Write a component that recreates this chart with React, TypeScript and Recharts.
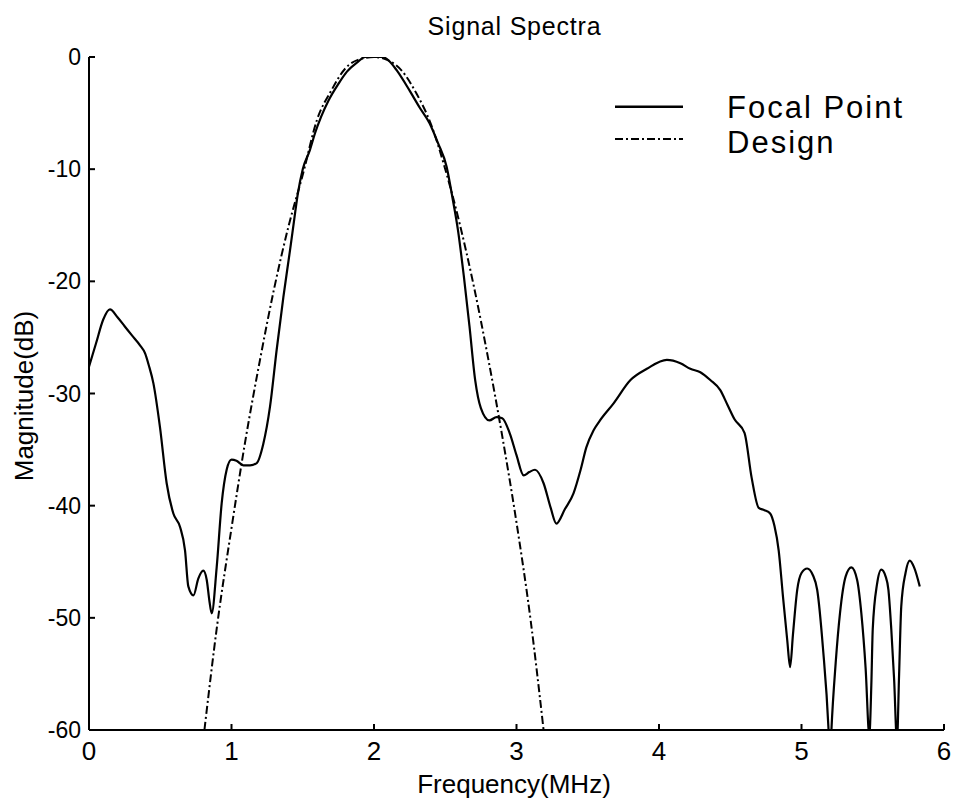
import React from 'react';
import { LineChart, Line, XAxis, YAxis } from 'recharts';

const FONT = '"Liberation Sans", Arial, Helvetica, sans-serif';

const chartTitle = 'Signal Spectra';
const xLabel = 'Frequency(MHz)';
const yLabel = 'Magnitude(dB)';
const seriesNames = ['Focal Point', 'Design'];

const xTicks = [0, 1, 2, 3, 4, 5, 6];
const yTicks = [-60, -50, -40, -30, -20, -10, 0];

// Focal Point (solid)
const focalX = [
  0, 0.05, 0.1, 0.147, 0.2, 0.25, 0.3, 0.358, 0.393, 0.42, 0.452, 0.498, 0.545, 0.592, 0.639, 0.674,
  0.697, 0.733, 0.767, 0.802, 0.826, 0.845, 0.861, 0.896, 0.931, 0.966, 1.0, 1.035, 1.083, 1.13, 1.177,
  1.223, 1.27, 1.317, 1.364, 1.411, 1.44, 1.464, 1.5, 1.55, 1.586, 1.63, 1.68, 1.75, 1.81, 1.88, 1.94,
  2.0, 2.06, 2.11, 2.16, 2.25, 2.32, 2.39, 2.45, 2.51, 2.55, 2.59, 2.63, 2.67, 2.71, 2.75, 2.81, 2.86,
  2.9, 2.954, 3.0, 3.05, 3.09, 3.13, 3.19, 3.24, 3.28, 3.34, 3.4, 3.45, 3.49, 3.54, 3.586, 3.68, 3.8,
  3.915, 4.055, 4.15, 4.22, 4.29, 4.36, 4.43, 4.48, 4.53, 4.6, 4.65, 4.7, 4.74, 4.78, 4.81, 4.84, 4.87,
  4.9, 4.92, 4.94, 4.97, 5.0, 5.04, 5.08, 5.11, 5.15, 5.19, 5.2, 5.21, 5.24, 5.27, 5.31, 5.35, 5.39,
  5.42, 5.45, 5.476, 5.49, 5.5, 5.53, 5.56, 5.59, 5.61, 5.63, 5.65, 5.67, 5.685, 5.7, 5.73, 5.76, 5.79,
  5.83,
];
const focalY = [
  -27.6, -25.5, -23.4, -22.5, -23.2, -24.0, -24.8, -25.7, -26.4, -27.5, -29.1, -33.0, -38.0, -40.7, -41.9, -44.0,
  -47.2, -48.0, -46.5, -45.8, -46.6, -48.5, -49.6, -45.5, -39.8, -36.8, -35.9, -36.0, -36.4, -36.4, -36.2,
  -34.5, -31.2, -26.1, -21.4, -17.2, -14.5, -12.3, -10.0, -8.3, -6.8, -5.3, -3.9, -2.4, -1.3, -0.5, 0,
  0, 0, -0.4, -1.2, -3.0, -4.5, -5.9, -7.7, -9.8, -12.5, -15.5, -19.5, -24.0, -28.8, -31.3, -32.4, -32.1,
  -32.2, -33.6, -35.5, -37.3, -37.0, -36.8, -38.0, -40.2, -41.6, -40.3, -38.9, -36.8, -34.8, -33.3, -32.4, -30.9, -28.8,
  -27.8, -27.0, -27.3, -27.8, -28.1, -28.8, -29.7, -31.0, -32.3, -33.5, -37.5, -40.2, -40.4, -40.7, -41.8, -44.0, -48.1,
  -52.0, -54.4, -51.5, -47.5, -46.0, -45.6, -46.2, -47.5, -52.6, -60.0, -63.0, -60.0, -54.0, -49.6, -46.3, -45.5, -46.6,
  -49.6, -54.5, -60.5, -56.0, -51.0, -47.0, -45.7, -46.3, -47.5, -51.0, -55.5, -61.0, -55.0, -49.0, -46.0, -44.9, -45.5,
  -47.2,
];

// Design (dash-dot)
const designX = [
  0.81, 0.9, 1.0, 1.1, 1.2, 1.3, 1.4, 1.5, 1.6, 1.7, 1.8, 1.9, 2.0, 2.1, 2.2, 2.3, 2.4, 2.5, 2.6, 2.7,
  2.8, 2.9, 3.0, 3.1, 3.19,
];
const designY = [
  -60, -50.6, -42.0, -34.0, -27.0, -20.6, -15.1, -10.5, -5.6, -3.0, -1.0, -0.2, 0, -0.3, -1.3, -3.3,
  -6.0, -10.0, -14.8, -20.4, -26.8, -33.8, -41.5, -50.3, -60,
];

const focalData = focalX.map((x, i) => ({ x, y: focalY[i] }));
const designData = designX.map((x, i) => ({ x, y: designY[i] }));

export default function App() {
  return (
    <div style={{ position: 'absolute', left: 0, top: 0, width: 956, height: 803, background: '#fff' }}>
      <LineChart
        width={956}
        height={803}
        margin={{ top: 57, right: 12, bottom: 33, left: 29 }}
        style={{ fontFamily: FONT }}
      >
        <XAxis
          dataKey="x"
          type="number"
          domain={[0, 6]}
          ticks={xTicks}
          allowDataOverflow
          height={40}
          axisLine={{ stroke: '#000', strokeWidth: 2 }}
          tickLine={{ stroke: '#000', strokeWidth: 2 }}
          tickSize={-6}
          tickMargin={18}
          tick={{ fill: '#000', fontSize: 26, fontFamily: FONT }}
          interval={0}
        />
        <YAxis
          type="number"
          domain={[-60, 0]}
          ticks={yTicks}
          allowDataOverflow
          width={60}
          axisLine={{ stroke: '#000', strokeWidth: 2 }}
          tickLine={{ stroke: '#000', strokeWidth: 2 }}
          tickSize={-6}
          tickMargin={14}
          tick={{ fill: '#000', fontSize: 23, fontFamily: FONT }}
          interval={0}
        />
        <Line
          data={focalData}
          dataKey="y"
          name={seriesNames[0]}
          type="monotone"
          stroke="#000"
          strokeWidth={2.2}
          dot={false}
          activeDot={false}
          isAnimationActive={false}
        />
        <Line
          data={designData}
          dataKey="y"
          name={seriesNames[1]}
          type="monotone"
          stroke="#000"
          strokeWidth={2}
          strokeDasharray="8 3 2 3"
          dot={false}
          activeDot={false}
          isAnimationActive={false}
        />
      </LineChart>
      <svg
        width={956}
        height={803}
        style={{ position: 'absolute', left: 0, top: 0, pointerEvents: 'none' }}
      >
        <text x={514.5} y={35} textAnchor="middle" fontSize={25} fontFamily={FONT} fill="#000" letterSpacing={0.8}>
          {chartTitle}
        </text>
        <text x={514} y={793} textAnchor="middle" fontSize={26} fontFamily={FONT} fill="#000">
          {xLabel}
        </text>
        <text
          x={0}
          y={0}
          transform="translate(33,396) rotate(-90)"
          textAnchor="middle"
          fontSize={26}
          fontFamily={FONT}
          fill="#000"
        >
          {yLabel}
        </text>
        <g>
          <line x1={615} y1={106.7} x2={683} y2={106.7} stroke="#000" strokeWidth={2.4} />
          <text x={727} y={118} fontSize={31} fontFamily={FONT} fill="#000" letterSpacing={2}>
            {seriesNames[0]}
          </text>
          <line x1={615} y1={139} x2={683} y2={139} stroke="#000" strokeWidth={2} strokeDasharray="8 3 2 3" />
          <text x={727} y={153} fontSize={31} fontFamily={FONT} fill="#000" letterSpacing={2}>
            {seriesNames[1]}
          </text>
        </g>
      </svg>
    </div>
  );
}
